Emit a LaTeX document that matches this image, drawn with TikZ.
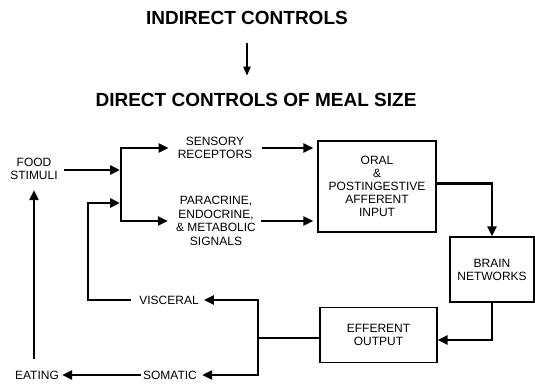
\documentclass[tikz,border=0pt]{standalone}
\usepackage{fontspec}
\setmainfont{Liberation Sans}
\usetikzlibrary{arrows.meta}
\usetikzlibrary{positioning}

\begin{document}
\begin{tikzpicture}[x=1pt, y=-1pt,
    lbl/.style={font=\fontsize{12}{13.5}\selectfont, align=center, inner sep=0pt},
    box/.style={draw, line width=1.4pt, align=center, font=\fontsize{12}{13}\selectfont},
    head/.style={font=\bfseries\fontsize{19}{22}\selectfont},
    arr/.style={line width=2.6pt, -{Triangle[length=10pt,width=9pt]}},
    wire/.style={line width=2.6pt}]
    \useasboundingbox (0,0) rectangle (535,383);

    % Headings
    \node[head] (ind) at (247,18) {INDIRECT CONTROLS};
    \node[head] (dir) at (256,100) {DIRECT CONTROLS OF MEAL SIZE};
    \draw[line width=2pt, -{Triangle[length=9pt,width=7pt]}, shorten <=15pt, shorten >=14pt]
        (ind.south) -- (ind.south |- dir.north);

    % Stimuli and signals
    \node[lbl] (food) at (34,169) {FOOD\\STIMULI};
    \node[lbl] (sens) at (215,148) {SENSORY\\RECEPTORS};
    \node[lbl] (para) at (216,221) {PARACRINE,\\ENDOCRINE,\\\& METABOLIC\\SIGNALS};

    % Junction points
    \coordinate (jtop) at (121,148);
    \coordinate (jmid) at (121,170);
    \coordinate (jfb) at (121,203);
    \coordinate (jbot) at (121,221);
    \coordinate (fb) at (88,203);

    \draw[arr, shorten <=6pt, shorten >=1pt] (food.east |- jmid) -- (jmid);
    \draw[arr, shorten >=9pt] (jbot) -- (jtop) -- (sens.west);
    \draw[arr, shorten >=8pt] (jtop) -- (jbot) -- (para.west);

    % Boxes
    \node[box, minimum width=118pt, minimum height=91pt] (aff) at (377,186.5)
        {ORAL\\\&\\POSTINGESTIVE\\AFFERENT\\INPUT};
    \node[box, minimum width=84pt, minimum height=65pt] (brain) at (492,269.5)
        {BRAIN\\NETWORKS};
    \node[box, minimum width=117pt, minimum height=55pt] (eff) at (378.5,335)
        {EFFERENT\\OUTPUT};

    \draw[arr, shorten <=10pt, shorten >=4pt] (sens.east) -- (sens.east -| aff.west);
    \draw[arr, shorten <=5pt, shorten >=4pt] (para.east) -- (para.east -| aff.west);
    \draw[arr] ([yshift=3pt]aff.east) -| (brain.north);
    \draw[arr] (brain.south) |- ([yshift=-5pt]eff.east);

    % Outputs
    \node[lbl] (visc) at (169,300) {VISCERAL};
    \node[lbl] (som) at (170,375) {SOMATIC};
    \node[lbl] (eat) at (37,375) {EATING};
    \coordinate (jout) at (258,338);

    \draw[arr, shorten >=5pt] ([yshift=-3pt]eff.west) -- (jout) |- (visc.east);
    \draw[arr, shorten >=5pt] (jout) |- (som.east);
    \draw[arr, shorten >=3pt, shorten <=2pt] (som.west) -- (eat.east);

    % Feedback loops
    \draw[arr, shorten <=8pt, shorten >=1pt] (visc.west) -| (fb) -- (jfb);
    \draw[arr, shorten <=12pt, shorten >=10pt] (eat.north -| food.south) -- (food.south);
\end{tikzpicture}
\end{document}
